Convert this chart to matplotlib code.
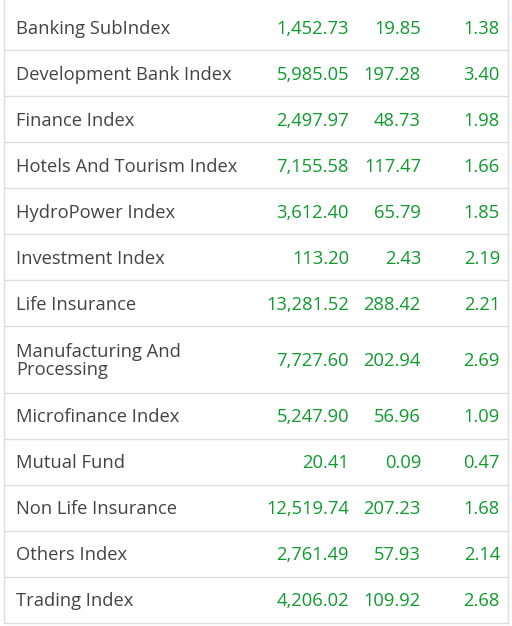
import matplotlib
matplotlib.use("Agg")
import matplotlib.pyplot as plt

names = ["Banking SubIndex", "Development Bank Index", "Finance Index",
         "Hotels And Tourism Index", "HydroPower Index", "Investment Index",
         "Life Insurance", "Manufacturing And\nProcessing", "Microfinance Index",
         "Mutual Fund", "Non Life Insurance", "Others Index", "Trading Index"]
values = ["1,452.73", "5,985.05", "2,497.97", "7,155.58", "3,612.40", "113.20",
          "13,281.52", "7,727.60", "5,247.90", "20.41", "12,519.74", "2,761.49", "4,206.02"]
changes = ["19.85", "197.28", "48.73", "117.47", "65.79", "2.43", "288.42",
           "202.94", "56.96", "0.09", "207.23", "57.93", "109.92"]
pct = ["1.38", "3.40", "1.98", "1.66", "1.85", "2.19", "2.21", "2.69",
       "1.09", "0.47", "1.68", "2.14", "2.68"]

fig = plt.figure(figsize=(5.12, 6.26), dpi=100)
ax = fig.add_axes([0, 0, 1, 1])
ax.set_xlim(0, 512)
ax.set_ylim(626, 0)
ax.axis("off")

heights = [46] * 13
heights[7] = 67
green = "#0f9a2e"
grid = "#dedede"
fs = 13.2
y = 4
ax.plot([4, 4], [0, 623], color=grid, lw=1)
ax.plot([508, 508], [0, 623], color=grid, lw=1)
for i, h in enumerate(heights):
    yc = y + h / 2 + 1.5
    ax.text(16, yc, names[i], fontsize=fs, family="Open Sans", color="#444444",
            va="center", ha="left", linespacing=0.95)
    ax.text(349, yc, values[i], fontsize=fs, family="Open Sans", color=green, va="center", ha="right")
    ax.text(421, yc, changes[i], fontsize=fs, family="Open Sans", color=green, va="center", ha="right")
    ax.text(500, yc, pct[i], fontsize=fs, family="Open Sans", color=green, va="center", ha="right")
    y += h
    ax.plot([4, 508], [y, y], color=grid, lw=1)

fig.savefig("out.png", dpi=100)
